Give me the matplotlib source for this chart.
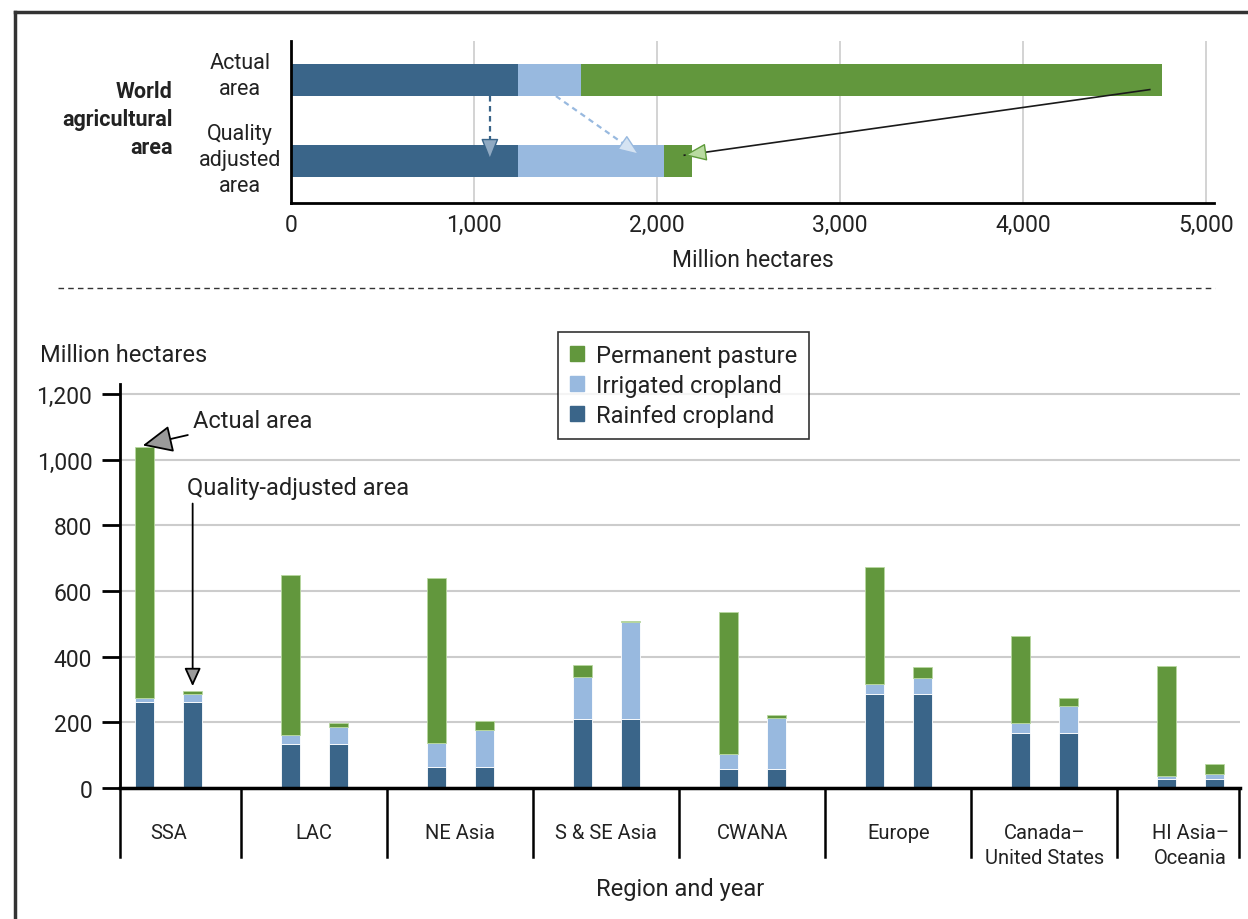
import matplotlib
matplotlib.use("Agg")
from matplotlib import pyplot as plt
from matplotlib.lines import Line2D

plt.rcParams['font.family'] = ['Roboto', 'DejaVu Sans']
plt.rcParams['text.color'] = '#222222'
plt.rcParams['xtick.color'] = '#222222'
plt.rcParams['ytick.color'] = '#222222'
plt.rcParams['xtick.labelcolor'] = '#222222'
plt.rcParams['ytick.labelcolor'] = '#222222'

# world totals (million hectares): actual, quality adjusted
world_rainfed = [1240, 1240]
world_irrigated = [345, 798]
world_pasture = [3175, 153]

regions = ["SSA", "LAC", "NE Asia", "S & SE Asia", "CWANA", "Europe",
           "Canada–\nUnited States", "HI Asia–\nOceania"]
rainfed_actual = [262, 133, 65, 210, 59, 287, 167, 28]
irrigated_actual = [11, 29, 72, 127, 45, 30, 30, 9]
pasture_actual = [765, 488, 503, 37, 431, 356, 265, 334]
rainfed_qa = [262, 133, 65, 210, 59, 287, 167, 28]
irrigated_qa = [23, 54, 112, 295, 155, 48, 83, 14]
pasture_qa = [9, 12, 27, 3, 9, 33, 24, 32]

c_rain = "#3a6589"
c_irr = "#98b9df"
c_past = "#62973d"

fig = plt.figure(figsize=(12.48, 9.2), dpi=100)

# outer frame (top and left only visible)
fig.add_artist(Line2D([15/1248, 1.0], [1-13/920, 1-13/920], color="#333333", lw=2.5))
fig.add_artist(Line2D([15/1248, 15/1248], [1-13/920, 0.0], color="#333333", lw=2.5))
# dashed separator
fig.add_artist(Line2D([58/1248, 1215/1248], [1-289/920, 1-289/920], color="#333333",
                      lw=1, ls=(0, (4, 3))))

# ---- top panel
ax1 = fig.add_axes([291/1248, 1-204/920, 923/1248, 162/920])
ypos = [1, 0]
ax1.barh(ypos, world_rainfed, height=0.4, color=c_rain)
ax1.barh(ypos, world_irrigated, left=world_rainfed, height=0.4, color=c_irr)
left3 = [a + b for a, b in zip(world_rainfed, world_irrigated)]
ax1.barh(ypos, world_pasture, left=left3, height=0.4, color=c_past)
ax1.set_xlim(0, 5045)
ax1.set_ylim(-0.52, 1.48)
ax1.set_xticks([0, 1000, 2000, 3000, 4000, 5000])
ax1.set_xticklabels(["0", "1,000", "2,000", "3,000", "4,000", "5,000"], fontsize=16.5)
ax1.set_yticks([])
ax1.tick_params(axis='x', length=0, pad=7)
ax1.grid(axis='x', color="#cccccc", lw=1.2)
ax1.set_axisbelow(True)
for s in ["top", "right"]:
    ax1.spines[s].set_visible(False)
ax1.spines["left"].set_linewidth(2)
ax1.spines["bottom"].set_linewidth(2)
ax1.set_xlabel("Million hectares", fontsize=16.5, labelpad=9, color='#222222')

tr = ax1.get_yaxis_transform()
ax1.text(-0.055, 1.05, "Actual\narea", transform=tr, ha='center', va='center',
         fontsize=15.5, linespacing=1.3)
ax1.text(-0.055, 0.02, "Quality\nadjusted\narea", transform=tr, ha='center', va='center',
         fontsize=15.5, linespacing=1.3)
ax1.text(-0.128, 0.52, "World\nagricultural\narea", transform=tr, ha='right', va='center',
         fontsize=15.5, fontweight='bold', linespacing=1.35)

# arrows between bars
head = "-|>,head_length=1.4,head_width=0.55"

def link_arrow(ax, x0, y0, x1, y1, col, fc, ls, ec=None, lw=1.6, frac=0.1):
    ax.plot([x0, x1], [y0, y1], color=col, lw=lw, ls=ls)
    dx, dy = x1 - x0, y1 - y0
    ax.annotate("", xy=(x1, y1), xytext=(x1 - dx * frac, y1 - dy * frac),
                arrowprops=dict(arrowstyle=head, color=ec or col, lw=1, fc=fc,
                                shrinkA=0, shrinkB=0))

link_arrow(ax1, 1087, 0.8, 1087, 0.0, c_rain, "#8fa9c2", (0, (2.5, 2)))
link_arrow(ax1, 1448, 0.8, 1907, 0.07, c_irr, "#d5e3f2", (0, (2.5, 2)))
link_arrow(ax1, 4694, 0.88, 2150, 0.07, "#1a1a1a", "#b9dba0", "-",
           ec="#5d9a3a", lw=1.2, frac=0.04)

# ---- bottom panel
ax2 = fig.add_axes([120/1248, 1-789/920, 1120/1248, 404/920])
x = range(len(regions))
xa = [i - 0.1665 for i in x]
xq = [i + 0.1665 for i in x]
w = 0.13
for xs, r, ir, p in [(xa, rainfed_actual, irrigated_actual, pasture_actual),
                     (xq, rainfed_qa, irrigated_qa, pasture_qa)]:
    ax2.bar(xs, r, width=w, color=c_rain, edgecolor="#ffffff", lw=0.6)
    ax2.bar(xs, ir, width=w, bottom=r, color=c_irr, edgecolor="#ffffff", lw=0.6)
    b2 = [a + b for a, b in zip(r, ir)]
    ax2.bar(xs, p, width=w, bottom=b2, color=c_past, edgecolor="#b8d8a0", lw=0.6)

ax2.set_xlim(-0.331, 7.339)
ax2.set_ylim(0, 1230)
ax2.set_yticks(range(0, 1201, 200))
ax2.set_yticklabels(["0", "200", "400", "600", "800", "1,000", "1,200"], fontsize=16.5)
ax2.tick_params(axis='y', length=13, width=2, pad=7, color='black')
ax2.set_xticks([])
ax2.grid(axis='y', color="#cccccc", lw=1.5)
ax2.set_axisbelow(True)
for s in ["top", "right"]:
    ax2.spines[s].set_visible(False)
ax2.spines["left"].set_linewidth(2)
ax2.spines["bottom"].set_linewidth(2.5)

xt = ax2.get_xaxis_transform()
seps = [-0.331] + [i + 0.5 for i in range(7)] + [7.335]
for s in seps:
    ax2.plot([s, s], [0, -0.171], transform=xt, color="black", lw=1.8, clip_on=False)
for i, name in enumerate(regions):
    ax2.text(i, -0.087, name, transform=xt, ha='center', va='top', fontsize=14.5,
             linespacing=1.4)

fig.text(680/1248, 1-890/920, "Region and year", ha='center', va='center', fontsize=17)
fig.text(40/1248, 1-356/920, "Million hectares", ha='left', va='center', fontsize=17)

ax2.annotate("Actual area", xy=(-0.175, 1043), xytext=(0.167, 1120),
             fontsize=17, ha='left', va='center',
             arrowprops=dict(arrowstyle="-|>,head_length=1.1,head_width=0.5",
                             fc="#9a9a9a", ec="black", lw=1.3, shrinkA=2, shrinkB=0))
ax2.text(0.126, 916, "Quality-adjusted area", fontsize=17, ha='left', va='center')
ax2.annotate("", xy=(0.1665, 310), xytext=(0.1665, 866),
             arrowprops=dict(arrowstyle="-|>,head_length=1.1,head_width=0.5",
                             fc="#9a9a9a", ec="black", lw=1.3, shrinkA=0, shrinkB=0))

handles = [plt.Rectangle((0, 0), 1, 1, color=c_past),
           plt.Rectangle((0, 0), 1, 1, color=c_irr),
           plt.Rectangle((0, 0), 1, 1, color=c_rain)]
leg = ax2.legend(handles, ["Permanent pasture", "Irrigated cropland", "Rainfed cropland"],
                 loc='upper left', bbox_to_anchor=(558/1248, 1-333/920),
                 bbox_transform=fig.transFigure, fontsize=17, frameon=True,
                 fancybox=False, edgecolor="black", handlelength=0.6, handleheight=0.6,
                 handletextpad=0.5, labelspacing=0.3, borderpad=0.5, borderaxespad=0)
leg.get_frame().set_linewidth(1.2)

fig.savefig("out.png", dpi=100)
